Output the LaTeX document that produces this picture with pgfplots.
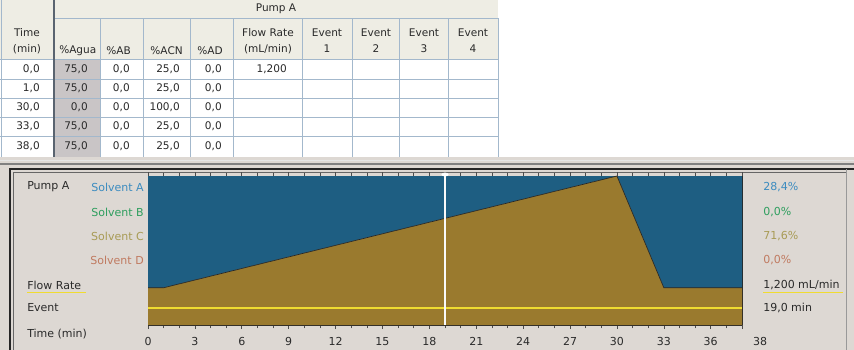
\documentclass[border=0pt]{standalone}
\usepackage{fontspec}
\setmainfont{DejaVu Sans}
\usepackage{pgfplots}
\pgfplotsset{compat=1.18}

\definecolor{tblhead}{HTML}{EEEDE4}
\definecolor{tblgrid}{HTML}{A3B8CC}
\definecolor{selcol}{HTML}{C9C5C6}
\definecolor{thickln}{HTML}{5A6470}
\definecolor{txt}{HTML}{2A2A2A}
\definecolor{panelbg}{HTML}{DDD8D3}
\definecolor{solA}{HTML}{3C8CC0}
\definecolor{solB}{HTML}{2E9E5E}
\definecolor{solC}{HTML}{A89B55}
\definecolor{solD}{HTML}{C07A60}
\definecolor{fillA}{HTML}{1E5E82}
\definecolor{fillC}{HTML}{9A7A2E}
\definecolor{flowY}{HTML}{F0DC30}

\newcommand{\tfont}{\fontsize{7.9pt}{9pt}\selectfont}
\newcommand{\pfont}{\fontsize{8.25pt}{9pt}\selectfont}
% one row of the gradient table: y, time, %Agua, %AB, %ACN, %AD
\newcommand{\trow}[6]{%
  \node[anchor=east] at (40,#1) {#2};
  \node[anchor=east] at (88,#1) {#3};
  \node[anchor=east] at (130,#1) {#4};
  \node[anchor=east] at (180,#1) {#5};
  \node[anchor=east] at (222,#1) {#6};}

\begin{document}
\begin{tikzpicture}
\begin{scope}[x=0.75pt,y=-0.75pt]
\useasboundingbox (0,0) rectangle (854,350);
\fill[white] (0,0) rectangle (854,350);

% ---- gradient table ----
\fill[tblhead] (0,0) rectangle (498,59);
\fill[white] (0,59) rectangle (498,157);
\fill[selcol] (55,59) rectangle (100,157);
\foreach \y in {59,79,98,117,136,157} \draw[tblgrid, line width=0.6pt] (0,\y) -- (498,\y);
\draw[tblgrid, line width=0.6pt] (54,18) -- (498,18);
\foreach \x in {100,143,190,233,302,352,399,448,498} \draw[tblgrid, line width=0.6pt] (\x,18) -- (\x,157);
\draw[tblgrid, line width=0.6pt] (1,0) -- (1,157);
\draw[thickln, line width=1.4pt] (54,0) -- (54,157);

\begin{scope}[every node/.style={inner sep=0pt, text=txt, font=\tfont}]
\node at (276,9) {Pump A};
\node at (27,33) {Time};
\node at (27,49) {(min)};
\node[anchor=west] at (59,51) {\%Agua};
\node[anchor=east] at (131,51) {\%AB};
\node[anchor=east] at (183,51) {\%ACN};
\node[anchor=east] at (223,51) {\%AD};
\node at (268,33) {Flow Rate};
\node at (268,49) {(mL/min)};
\foreach \c/\n in {327/1,376/2,424/3,473/4} {
  \node at (\c,33) {Event};
  \node at (\c,49) {\n};
}
\trow{69}{0,0}{75,0}{0,0}{25,0}{0,0}
\trow{88}{1,0}{75,0}{0,0}{25,0}{0,0}
\trow{107}{30,0}{0,0}{0,0}{100,0}{0,0}
\trow{126}{33,0}{75,0}{0,0}{25,0}{0,0}
\trow{146}{38,0}{75,0}{0,0}{25,0}{0,0}
\node[anchor=east] at (287,69) {1,200};
\end{scope}

% ---- gradient panel ----
\fill[panelbg] (0,157) rectangle (854,350);
\draw[white!80!gray, line width=0.75pt] (0,160) -- (854,160);
\draw[gray, line width=0.9pt] (0,164) -- (854,164);
\draw[black!85, line width=1.2pt] (10,350.5) -- (10,169) -- (854,169);
\draw[black!40, line width=0.6pt] (846,169) -- (846,350);
\draw[black!60, line width=0.6pt] (13,350.5) -- (13,172) -- (846,172);

\begin{scope}[every node/.style={inner sep=0pt, font=\pfont}]
\node[anchor=west, text=txt] at (27,187) {Pump A};
\node[anchor=east, text=solA] at (144,187) {Solvent A};
\node[anchor=east, text=solB] at (144,212) {Solvent B};
\node[anchor=east, text=solC] at (144,236) {Solvent C};
\node[anchor=east, text=solD] at (144,260) {Solvent D};
\node[anchor=west, text=txt] at (27,285) {Flow Rate};
\draw[flowY, line width=0.9pt] (27,292.5) -- (86,292.5);
\node[anchor=west, text=txt] at (27,308) {Event};
\node[anchor=west, text=txt] at (27,334) {Time (min)};

\node[anchor=west, text=solA] at (763,187) {28,4\%};
\node[anchor=west, text=solB] at (763,212) {0,0\%};
\node[anchor=west, text=solC] at (763,236) {71,6\%};
\node[anchor=west, text=solD] at (763,260) {0,0\%};
\node[anchor=west, text=txt] at (763,285) {1,200 mL/min};
\draw[flowY, line width=0.9pt] (763,292.5) -- (843,292.5);
\node[anchor=west, text=txt] at (763,308) {19,0 min};
\end{scope}
\end{scope}

\begin{axis}[
  at={(111pt,-243.75pt)}, anchor=south west, scale only axis,
  width=445.5pt, height=111.75pt,
  xmin=0, xmax=38, ymin=0, ymax=100,
  clip=false,
  axis line style={draw=black!85, line width=0.6pt},
  xtick={0,3,...,36}, minor xtick={1,2,...,37},
  extra x ticks={38},
  extra x tick style={tick label style={xshift=13.5pt}},
  ytick=\empty,
  tick align=outside,
  major tick length=3pt, minor tick length=2.5pt,
  tick style={draw=black!70, line width=0.5pt},
  xticklabel style={font=\pfont, text=txt, inner sep=0pt, yshift=-6pt},
  /pgf/number format/assume math mode=true,
]
% solvent A share: region above the solvent C profile up to 100 %
\addplot[fill=fillA, draw=none] coordinates {(0,25) (1,25) (30,100) (33,25) (38,25) (38,100) (0,100)} --cycle;
% solvent C composition (%)
\addplot[fill=fillC, draw=none] coordinates {(0,25) (1,25) (30,100) (33,25) (38,25)} \closedcycle;
\addplot[black!85, line width=0.5pt] coordinates {(0,25) (1,25) (30,100) (33,25) (38,25)};
% flow rate trace
\addplot[flowY, line width=1.5pt] coordinates {(0,11.6) (38,11.6)};
% cursor at 19.0 min
\addplot[white!95!gray, line width=0.9pt] coordinates {(19,0) (19,100)};
\addplot[only marks, mark=*, mark size=2.4pt, white, mark options={yscale=0.5}] coordinates {(19,101)};
\end{axis}
\end{tikzpicture}
\end{document}
